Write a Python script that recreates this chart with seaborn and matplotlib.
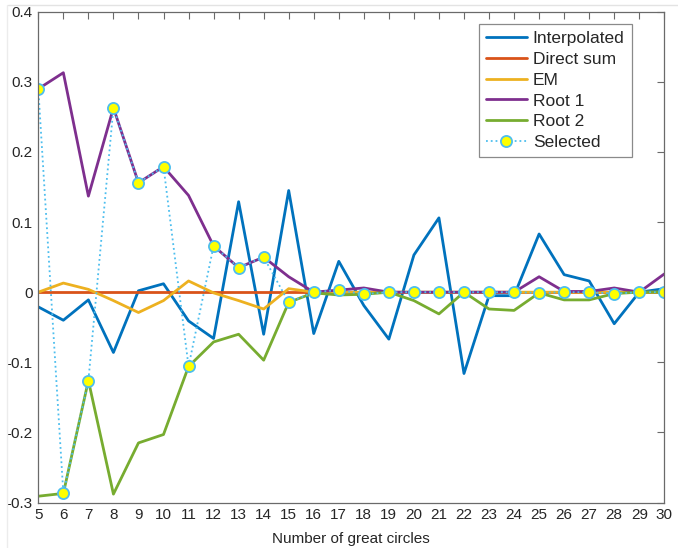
import matplotlib
matplotlib.use("Agg")
import matplotlib.pyplot as plt
from matplotlib.lines import Line2D
import numpy as np
import pandas as pd
import seaborn as sns

# Number of great circles
circles = list(range(5, 31))

interpolated = [-0.021, -0.040, -0.011, -0.086, 0.002, 0.012, -0.041, -0.066, 0.129, -0.060,
                0.145, -0.059, 0.044, -0.019, -0.067, 0.053, 0.106, -0.116, -0.005, -0.005,
                0.083, 0.025, 0.016, -0.045, 0.000, 0.005]
direct_sum = [0.0] * 26
em = [0.000, 0.013, 0.004, -0.012, -0.029, -0.012, 0.016, -0.001, -0.012, -0.024,
      0.005, 0.000, 0.000, 0.000, 0.000, 0.000, 0.000, 0.000, 0.000, 0.000,
      0.000, 0.000, 0.000, 0.000, 0.000, 0.000]
root1 = [0.290, 0.313, 0.137, 0.263, 0.156, 0.179, 0.138, 0.066, 0.035, 0.050,
         0.022, 0.000, 0.003, 0.006, 0.000, 0.000, 0.000, 0.000, 0.000, 0.000,
         0.022, 0.001, 0.001, 0.006, 0.000, 0.026]
root2 = [-0.291, -0.287, -0.126, -0.288, -0.215, -0.203, -0.106, -0.071, -0.060, -0.097,
         -0.0145, -0.001, -0.004, -0.003, 0.000, -0.012, -0.031, 0.000, -0.024, -0.026,
         -0.001, -0.011, -0.011, -0.002, 0.000, 0.000]
selected = [0.290, -0.287, -0.126, 0.263, 0.156, 0.179, -0.106, 0.066, 0.035, 0.050,
            -0.0145, 0.000, 0.003, -0.003, 0.000, 0.000, 0.000, 0.000, 0.000, 0.000,
            -0.001, 0.000, 0.000, -0.002, 0.000, 0.000]

y_ticks = [-0.3, -0.2, -0.1, 0.0, 0.1, 0.2, 0.3, 0.4]
y_tick_labels = ["-0.3", "-0.2", "-0.1", "0", "0.1", "0.2", "0.3", "0.4"]

series_names = ["Interpolated", "Direct sum", "EM", "Root 1", "Root 2"]
series_values = [interpolated, direct_sum, em, root1, root2]
colors = ["#0072BD", "#D95319", "#EDB120", "#7E2F8E", "#77AC30"]
sel_color = "#4DBEEE"

sns.set_style("white")
plt.rcParams["font.family"] = ["Liberation Sans", "DejaVu Sans"]

fig = plt.figure(figsize=(6.78, 5.48), dpi=100)
ax = fig.add_axes([0.0565, 0.0830, 0.9233, 0.8956])

frames = []
for name, vals in zip(series_names, series_values):
    frames.append(pd.DataFrame({"circles": circles, "value": vals, "series": name}))
df = pd.concat(frames, ignore_index=True)

for name, col in zip(series_names, colors):
    sub = df[df["series"] == name]
    sns.lineplot(data=sub, x="circles", y="value", ax=ax, color=col,
                 linewidth=2.0, label=name, legend=False)

sel_df = pd.DataFrame({"circles": circles, "value": selected})
sns.lineplot(data=sel_df, x="circles", y="value", ax=ax, color=sel_color,
             linestyle=":", linewidth=1.3, marker="o", markersize=8,
             markerfacecolor="yellow", markeredgecolor=sel_color,
             markeredgewidth=1.3, legend=False)

ax.set_xlim(5, 30)
ax.set_ylim(-0.3, 0.4)
ax.set_xticks(circles)
ax.set_xticklabels([str(c) for c in circles])
ax.set_yticks(y_ticks)
ax.set_yticklabels(y_tick_labels)
ax.set_xlabel("Number of great circles", fontsize=11, color="#262626", labelpad=7.5)
ax.set_ylabel("")

for sp in ax.spines.values():
    sp.set_visible(True)
    sp.set_color("#6a6a6a")
    sp.set_linewidth(0.9)
ax.tick_params(axis="both", direction="in", length=5, width=0.8, color="#6a6a6a",
               labelsize=11, labelcolor="#262626", top=True, right=True,
               labeltop=False, labelright=False, pad=4)

handles = [Line2D([], [], color=c, linewidth=2.0) for c in colors]
handles.append(Line2D([], [], color=sel_color, linestyle=":", linewidth=1.3,
                      marker="o", markersize=8, markerfacecolor="yellow",
                      markeredgecolor=sel_color, markeredgewidth=1.3))
leg = ax.legend(handles, series_names + ["Selected"], loc="upper right",
                bbox_to_anchor=(0.948, 0.975), borderaxespad=0, fontsize=12.5,
                frameon=True, fancybox=False, edgecolor="#8a8a8a", framealpha=1,
                handlelength=2.35, handletextpad=0.35, labelspacing=0.32,
                borderpad=0.42)
leg.get_frame().set_linewidth(0.9)

# window edge lines
fig.add_artist(Line2D([0.012, 1.0], [1 - 5 / 548, 1 - 5 / 548], color="#e3e3e3",
                      linewidth=1.0, transform=fig.transFigure))
fig.add_artist(Line2D([7 / 678, 7 / 678], [0.0, 1 - 5 / 548], color="#ececec",
                      linewidth=1.0, transform=fig.transFigure))

fig.savefig("out.png", dpi=100)
